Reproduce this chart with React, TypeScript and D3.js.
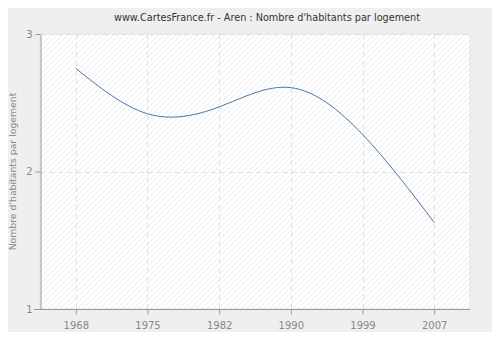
import React, { useEffect, useRef } from "react";
import * as d3 from "d3";

const years = ["1968", "1975", "1982", "1990", "1999", "2007"];
const values = [2.75, 2.42, 2.47, 2.61, 2.27, 1.63];
const yTicks = [1, 2, 3];
const title = "www.CartesFrance.fr - Aren : Nombre d'habitants par logement";
const yLabel = "Nombre d'habitants par logement";

const W = 500;
const H = 340;
const FONT = "'DejaVu Sans', sans-serif";

export default function App() {
  const ref = useRef<SVGSVGElement>(null);

  useEffect(() => {
    const svg = d3.select(ref.current);
    svg.selectAll("*").remove();

    const margin = { top: 34, right: 30, bottom: 31, left: 40 };
    const innerW = W - margin.left - margin.right;
    const innerH = H - margin.top - margin.bottom;

    const defs = svg.append("defs");
    const pat = defs
      .append("pattern")
      .attr("id", "hatch")
      .attr("patternUnits", "userSpaceOnUse")
      .attr("width", 4)
      .attr("height", 4)
      .attr("patternTransform", "rotate(45)");
    pat.append("rect").attr("width", 4).attr("height", 4).attr("fill", "#ffffff");
    pat
      .append("line")
      .attr("x1", 0.5)
      .attr("y1", 0)
      .attr("x2", 0.5)
      .attr("y2", 4)
      .attr("stroke", "#efefef")
      .attr("stroke-width", 1);

    // panel
    svg
      .append("rect")
      .attr("x", 5.5)
      .attr("y", 5.5)
      .attr("width", W - 11)
      .attr("height", H - 11)
      .attr("rx", 6)
      .attr("fill", "#efefef")
      .attr("stroke", "#dcdcdc");

    svg
      .append("text")
      .attr("x", 267)
      .attr("y", 21)
      .attr("text-anchor", "middle")
      .attr("font-family", FONT)
      .attr("font-size", 9.7)
      .attr("fill", "#333")
      .text(title);

    const g = svg
      .append("g")
      .attr("transform", `translate(${margin.left},${margin.top})`);

    const x = d3
      .scalePoint<string>()
      .domain(years)
      .range([0, innerW])
      .padding(0.5);
    const y = d3.scaleLinear().domain([1, 3]).range([innerH, 0]);

    g.append("rect")
      .attr("width", innerW)
      .attr("height", innerH)
      .attr("fill", "url(#hatch)")
      .attr("stroke", "#e4e4e4");

    // grid
    g.selectAll(".vgrid")
      .data(years)
      .enter()
      .append("line")
      .attr("x1", (d) => Math.round(x(d)!) + 0.5)
      .attr("x2", (d) => Math.round(x(d)!) + 0.5)
      .attr("y1", 0)
      .attr("y2", innerH)
      .attr("stroke", "#e0e0e0")
      .attr("stroke-dasharray", "5,4");
    g.selectAll(".hgrid")
      .data(yTicks.slice(1))
      .enter()
      .append("line")
      .attr("x1", 0)
      .attr("x2", innerW)
      .attr("y1", (d) => Math.round(y(d)) + 0.5)
      .attr("y2", (d) => Math.round(y(d)) + 0.5)
      .attr("stroke", "#e0e0e0")
      .attr("stroke-dasharray", "5,4");

    const line = d3
      .line<number>()
      .x((d, i) => x(years[i])!)
      .y((d) => y(d))
      .curve(d3.curveNatural);
    g.append("path")
      .datum(values)
      .attr("d", line)
      .attr("fill", "none")
      .attr("stroke", "#4a76ad")
      .attr("stroke-width", 1);

    // axes
    const xAxis = g
      .append("g")
      .attr("transform", `translate(0,${innerH + 0.5})`)
      .call(d3.axisBottom(x).tickSize(5).tickSizeOuter(0));
    xAxis.select(".domain").attr("d", `M-6,0H${innerW}`);
    const yAxis = g
      .append("g")
      .attr("transform", "translate(0.5,0)")
      .call(d3.axisLeft(y).tickValues(yTicks).tickFormat(d3.format("d")).tickSize(5).tickSizeOuter(0));

    [xAxis, yAxis].forEach((a) => {
      a.select(".domain").attr("stroke", "#999");
      a.selectAll(".tick line").attr("stroke", "#999");
      a.selectAll(".tick text")
        .attr("fill", "#888")
        .attr("font-family", FONT)
        .attr("font-size", 10);
    });
    xAxis.selectAll(".tick text").attr("dy", "1.1em");

    svg
      .append("text")
      .attr("transform", `translate(16,${margin.top + innerH / 2}) rotate(-90)`)
      .attr("text-anchor", "middle")
      .attr("font-family", FONT)
      .attr("font-size", 9.3)
      .attr("fill", "#888")
      .text(yLabel);
  }, []);

  return (
    <svg ref={ref} width={W} height={H} style={{ display: "block", margin: "-8px" }} />
  );
}
